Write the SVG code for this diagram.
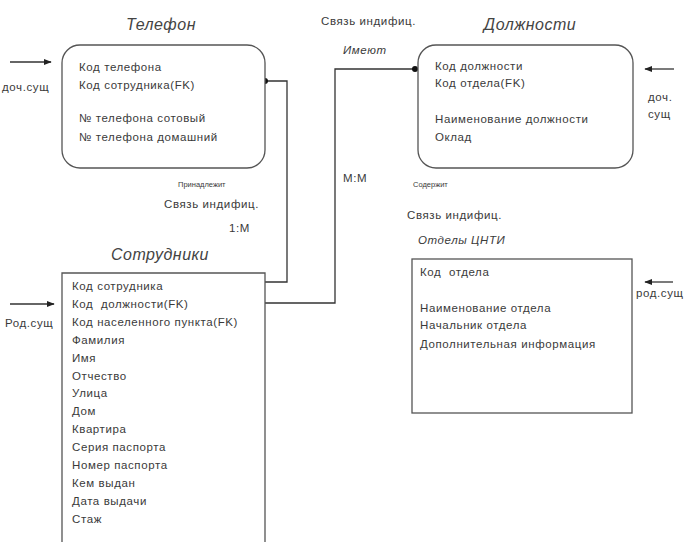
<svg xmlns="http://www.w3.org/2000/svg" width="686" height="542" viewBox="0 0 686 542">
<defs>
<style>
text{font-family:"Liberation Sans","DejaVu Sans",sans-serif;fill:#3a3a3a}
.t{font-size:11.5px;letter-spacing:0.6px}
.h{font-size:16px;font-style:italic;fill:#444;letter-spacing:0.5px}
.s{font-size:7.5px}
.i{font-style:italic}
.box{fill:#fff;stroke:#555;stroke-width:1.3}
.ln{fill:none;stroke:#333;stroke-width:1.3}
</style>
<marker id="ah" viewBox="0 0 10 10" refX="9" refY="5" markerWidth="6" markerHeight="6" orient="auto"><path d="M0,1 L10,5 L0,9 z" fill="#222"/></marker>
</defs>
<rect width="686" height="542" fill="#fff"/>

<g id="connectors">
<path class="ln" d="M265,81 H287 V282 H265"/>
<circle cx="265" cy="81" r="3" fill="#111"/>
<path class="ln" d="M265,303 H335 V69 H415"/>
<circle cx="415" cy="69" r="3" fill="#111"/>
<line class="ln" x1="10" y1="62" x2="51" y2="62" marker-end="url(#ah)"/>
<line class="ln" x1="10" y1="304" x2="54" y2="304" marker-end="url(#ah)"/>
<line class="ln" x1="674" y1="69" x2="645" y2="69" marker-end="url(#ah)"/>
<line class="ln" x1="673" y1="282" x2="645" y2="282" marker-end="url(#ah)"/>
<text class="t" x="2" y="91">доч.сущ</text>
<text class="t" x="5" y="327">Род.сущ</text>
<text class="t" x="648" y="101">доч.</text>
<text class="t" x="648" y="118">сущ</text>
<text class="t" x="636" y="297">род.сущ</text>
<text class="s" x="178" y="187">Принадлежит</text>
<text class="t" x="164" y="208">Связь индифиц.</text>
<text class="t" x="229" y="232">1:M</text>
<text class="t" x="321" y="25">Связь индифиц.</text>
<text class="t i" x="343" y="54">Имеют</text>
<text class="t" x="343" y="182">M:M</text>
<text class="s" x="413" y="187">Содержит</text>
<text class="t" x="407" y="219">Связь индифиц.</text>
<text class="t i" x="418" y="244">Отделы ЦНТИ</text>
</g>

<g id="telefon">
<text class="h" x="161" y="30" text-anchor="middle">Телефон</text>
<rect class="box" x="62" y="45" width="203" height="123" rx="18"/>
<text class="t" x="79" y="71">Код телефона</text>
<text class="t" x="79" y="89">Код сотрудника(FK)</text>
<text class="t" x="79" y="122">№ телефона сотовый</text>
<text class="t" x="79" y="141">№ телефона домашний</text>
</g>

<g id="dolzhnosti">
<text class="h" x="530" y="30" text-anchor="middle">Должности</text>
<rect class="box" x="418" y="45" width="215" height="123" rx="18"/>
<text class="t" x="435" y="70">Код должности</text>
<text class="t" x="435" y="87">Код отдела(FK)</text>
<text class="t" x="435" y="123">Наименование должности</text>
<text class="t" x="435" y="141">Оклад</text>
</g>

<g id="sotrudniki">
<text class="h" x="160" y="260" text-anchor="middle">Сотрудники</text>
<path class="box" d="M62,560 V273 H265 V560"/>
<text class="t" x="72" y="290">Код сотрудника</text>
<text class="t" x="72" y="308" xml:space="preserve">Код  должности(FK)</text>
<text class="t" x="72" y="326">Код населенного пункта(FK)</text>
<text class="t" x="72" y="344">Фамилия</text>
<text class="t" x="72" y="362">Имя</text>
<text class="t" x="72" y="380">Отчество</text>
<text class="t" x="72" y="397">Улица</text>
<text class="t" x="72" y="415">Дом</text>
<text class="t" x="72" y="433">Квартира</text>
<text class="t" x="72" y="451">Серия паспорта</text>
<text class="t" x="72" y="469">Номер паспорта</text>
<text class="t" x="72" y="487">Кем выдан</text>
<text class="t" x="72" y="505">Дата выдачи</text>
<text class="t" x="72" y="523">Стаж</text>
</g>

<g id="otdely">
<rect class="box" x="412" y="259" width="220" height="154"/>
<text class="t" x="420" y="276" xml:space="preserve">Код  отдела</text>
<text class="t" x="420" y="312">Наименование отдела</text>
<text class="t" x="420" y="329">Начальник отдела</text>
<text class="t" x="420" y="348">Дополнительная информация</text>
</g>
</svg>
